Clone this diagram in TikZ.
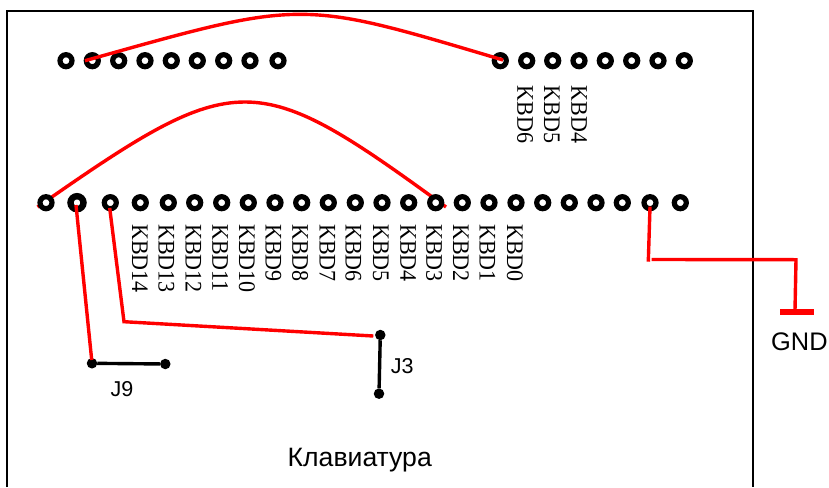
\documentclass[tikz,border=0pt]{standalone}
\usepackage{fontspec}
\setmainfont{Liberation Serif}
\setsansfont{Liberation Sans}
\definecolor{wire}{RGB}{255,0,0}
\tikzset{
  ring/.style={circle,draw=black,fill=white,line width=5.2pt,minimum size=12pt,inner sep=0pt,outer sep=0pt},
  bigring/.style={ring,line width=6.4pt,minimum size=13pt},
  dot/.style={circle,fill=black,minimum size=10.5pt,inner sep=0pt,outer sep=0pt},
  wireline/.style={draw=wire,line width=3.4pt,line join=miter},
  jumper/.style={draw=black,line width=3.4pt},
  pin/.style={rotate=-90,anchor=base west,inner sep=0pt,font=\fontsize{22}{24}\selectfont},
  sans/.style={inner sep=0pt,font=\sffamily},
}
\begin{document}
\begin{tikzpicture}[x=1pt,y=-1pt]
\useasboundingbox (0,0) rectangle (829,487);
\draw[line width=2pt] (7.3,487) -- (7.3,11) -- (753.3,11) -- (753.3,487);
% arc passing below the lower rings
\coordinate (a1) at (37.5,207);
\coordinate (a2) at (446,207);
\draw[wireline] (a1) .. controls (238,67) and (254,67) .. (a2);
% rings
\foreach \n/\x in {1/66,2/92.3,3/118.7,4/145,5/171.3,6/197.3,7/223.7,8/250,9/278,
  10/500.3,11/526.7,12/552.7,13/579,14/605.3,15/631.7,16/658,17/684.3}
  \node[ring] (t\n) at (\x,60.7) {};
\foreach \n/\x in {1/46,3/110.3,4/140.3,5/168.3,6/194.7,7/221.7,8/248.3,9/275,10/301.7,
  11/328.3,12/355.3,13/382,14/408.7,15/435.7,16/462.3,17/489,18/516,19/542.7,
  20/569.3,21/596,22/622.3,23/650,24/680.3}
  \node[ring] (b\n) at (\x,202.7) {};
\node[bigring] (b2) at (77,202.7) {};
% labels
\foreach \t/\x in {KBD14/132,KBD13/158.7,KBD12/185.7,KBD11/212.3,KBD10/239,KBD9/265.7,
  KBD8/292.3,KBD7/319.5,KBD6/345.7,KBD5/373,KBD4/400.3,KBD3/426.3,KBD2/453,KBD1/479.7,KBD0/507}
  \node[pin] at (\x,224) {\scalebox{1}[1.08]{\t}};
\foreach \t/\x in {KBD6/517.3,KBD5/544,KBD4/571.3}
  \node[pin] at (\x,85.7) {\scalebox{1}[1.08]{\t}};
% jumpers
\node[dot] (j9a) at (92,363.3) {};
\node[dot] (j9b) at (165.3,364) {};
\node[dot] (j3a) at (380.3,335) {};
\node[dot] (j3b) at (379,393.7) {};
\draw[jumper] (j9a) -- (j9b);
\draw[jumper] (j3a) -- (j3b);
\node[sans,font=\sffamily\fontsize{21.5}{24}\selectfont,anchor=base west] (j9) at (110.4,396) {J9};
\node[sans,font=\sffamily\fontsize{21.5}{24}\selectfont,anchor=base west] (j3) at (390.7,373) {J3};
\node[sans,font=\sffamily\fontsize{26.6}{28}\selectfont,anchor=base west] (kb) at (287.5,466) {Клавиатура};
\node[sans,font=\sffamily\fontsize{25.4}{28}\selectfont,anchor=base west] (gnd) at (771,350.5) {GND};
% red wires
\coordinate (w1) at (85,60.7);
\coordinate (w2) at (503,60);
\draw[wireline] (w1) .. controls (305,-1) and (298,-1) .. (w2);
\coordinate (w3) at (76,205);
\coordinate (w4) at (91.7,360);
\draw[wireline] (w3) -- (w4);
\coordinate (w5) at (109.7,208);
\coordinate (w6) at (124,321.7);
\coordinate (w7) at (373.3,336);
\draw[wireline] (w5) -- (w6) -- (w7);
\coordinate (w8) at (650,206.7);
\coordinate (w9) at (648.3,261.7);
\coordinate (w10) at (651.7,259.5);
\coordinate (w11) at (796,259.7);
\coordinate (w12) at (795,310);
\draw[wireline] (w8) -- (w9);
\draw[wireline] (w10) -- (w11) -- (w12);
\coordinate (g1) at (780,311.8);
\coordinate (g2) at (814,311.8);
\draw[draw=wire,line width=6pt] (g1) -- (g2);
\end{tikzpicture}
\end{document}
